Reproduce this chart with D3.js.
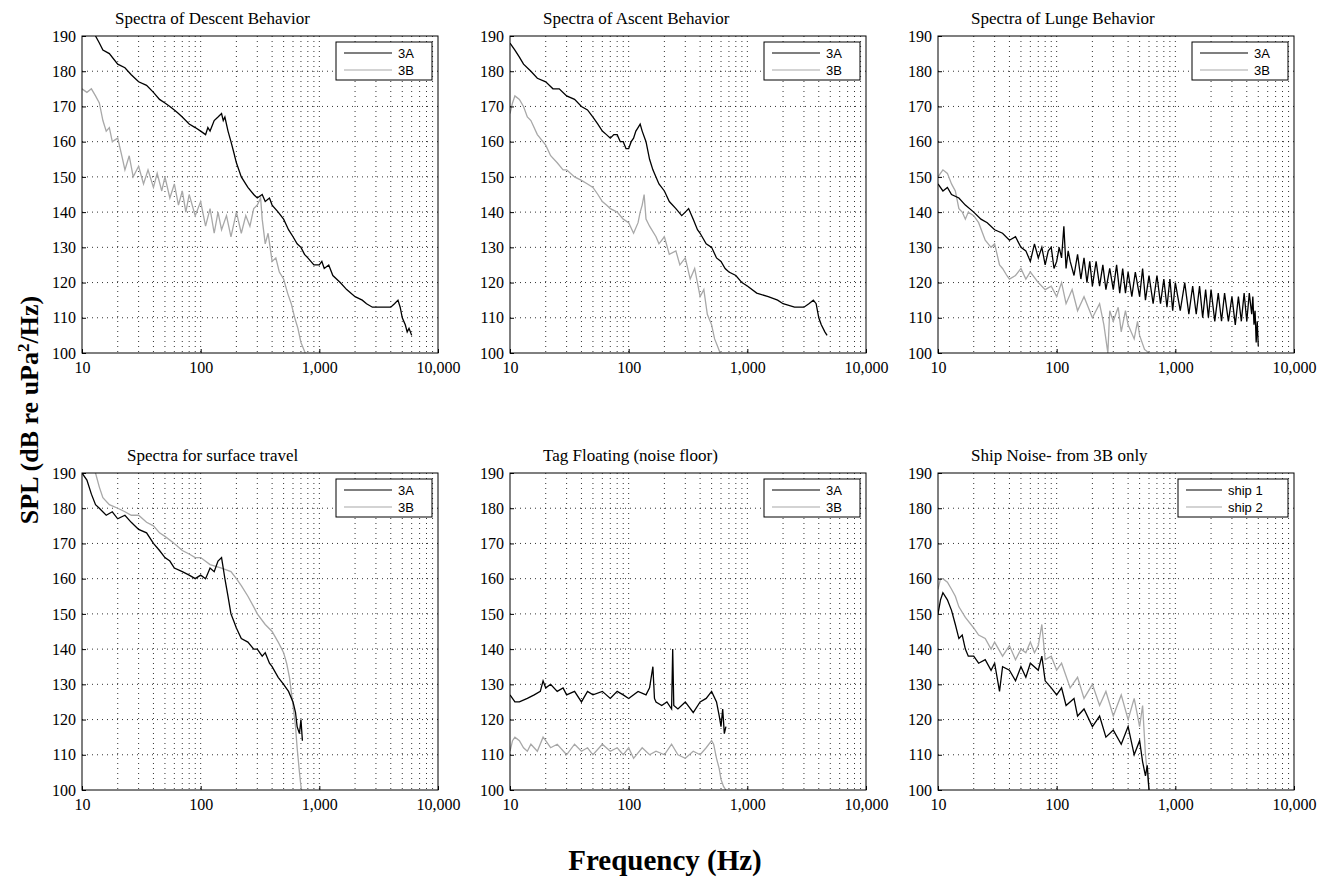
<!DOCTYPE html>
<html><head><meta charset="utf-8">
<script src="https://cdn.jsdelivr.net/npm/d3@7"></script>
<style>body{margin:0;background:#fff}</style></head>
<body><svg id="c" width="1343" height="879"></svg>
<script>
const titles=["Spectra of Descent Behavior","Spectra of Ascent Behavior","Spectra of Lunge Behavior","Spectra for surface travel","Tag Floating (noise floor)","Ship Noise- from 3B only"];
const legendNames=[["3A","3B"],["3A","3B"],["3A","3B"],["3A","3B"],["3A","3B"],["ship 1","ship 2"]];
const yTicks=[100,110,120,130,140,150,160,170,180,190];
const xTicks=[10,100,1000,10000];
// [freq Hz, dB]
const descentA=[[13,190],[14,188],[15,186],[17,185],[20,182],[23,181],[26,179],[30,177],[35,176],[40,174],[45,172],[50,171],[55,170],[60,169],[65,168],[70,167],[80,165],[90,164],[100,163],[110,162],[115,164],[120,163],[130,166],[140,167],[150,168],[155,166],[160,167],[170,163],[180,160],[190,157],[200,154],[220,150],[250,147],[280,145],[300,144],[330,145],[350,143],[380,144],[400,142],[450,140],[500,138],[550,135],[600,133],[650,131],[700,130],[750,128],[800,127],[900,125],[1000,125],[1050,126],[1100,124],[1200,125],[1300,122],[1500,120],[1700,118],[2000,116],[2300,115],[2500,114],[2800,113],[3000,113],[3500,113],[4000,113],[4300,114],[4600,115],[4800,113],[5000,110],[5300,108],[5500,106],[5700,107],[6000,105]];
const descentB=[[10,175],[11,174],[12,175],[13,173],[14,171],[15,166],[16,163],[17,164],[18,160],[20,161],[22,155],[23,152],[25,156],[27,150],[30,153],[33,148],[36,152],[40,147],[43,151],[47,146],[50,150],[55,144],[60,148],[65,142],[70,146],[75,140],[80,145],[90,139],[100,143],[110,136],[120,141],[130,134],[140,140],[150,135],[165,139],[180,133],[200,140],[220,134],[240,139],[260,136],[280,141],[300,142],[320,144],[330,138],[350,131],[370,134],[400,126],[430,127],[460,123],[500,121],[540,117],[580,114],[620,110],[660,107],[700,103],[740,101],[760,100]];
const ascentA=[[10,188],[11,186],[12,184],[13,182],[15,180],[17,178],[20,177],[23,175],[26,175],[30,173],[35,172],[40,170],[45,169],[50,167],[55,165],[60,163],[65,162],[70,161],[75,162],[80,162],[85,160],[90,160],[95,158],[100,158],[105,160],[110,161],[115,163],[120,164],[125,165],[130,163],[140,160],[150,155],[160,152],[180,148],[200,146],[220,143],[250,141],[280,139],[300,140],[320,141],[350,138],[380,135],[400,134],[450,131],[500,130],[550,127],[600,126],[650,124],[700,123],[800,122],[900,120],[1000,119],[1200,117],[1500,116],[1800,115],[2000,114],[2500,113],[3000,113],[3300,114],[3600,115],[3800,114],[4000,110],[4200,108],[4500,106],[4700,105]];
const ascentB=[[10,168],[10.5,171],[11,173],[12,172],[13,170],[14,167],[15,166],[17,162],[20,159],[22,156],[25,154],[28,152],[30,152],[35,150],[40,149],[45,148],[50,147],[55,145],[60,143],[65,142],[70,141],[80,140],[90,138],[100,137],[110,134],[120,137],[125,140],[130,142],[135,145],[140,138],[150,136],[170,133],[180,131],[200,133],[220,128],[250,129],[270,125],[300,127],[330,121],[360,124],[400,116],[430,118],[460,111],[500,108],[530,104],[560,102],[590,100]];
const lungeA=[[10,148],[11,146],[12,147],[13,145],[15,144],[17,142],[20,140],[23,138],[26,137],[30,135],[35,134],[40,132],[45,133],[50,130],[55,129],[60,126],[65,131],[70,127],[75,130],[80,125],[85,129],[90,130],[95,124],[100,126],[105,130],[110,127],[115,136],[120,124],[125,129],[130,126],[140,122],[150,128],[160,121],[170,127],[180,120],[190,126],[200,119],[215,126],[230,119],[245,125],[260,118],[280,124],[300,118],[320,125],[340,117],[360,124],[380,117],[400,123],[430,116],[460,123],[500,116],[530,124],[560,115],[600,122],[650,114],[700,122],[750,114],[800,121],[850,113],[900,121],[950,112],[1000,120],[1100,112],[1200,120],[1300,111],[1400,119],[1500,111],[1600,119],[1700,110],[1800,118],[1900,110],[2000,118],[2150,109],[2300,117],[2450,109],[2600,117],[2800,109],[3000,116],[3200,108],[3400,116],[3600,109],[3800,117],[4000,109],[4200,117],[4400,111],[4500,116],[4600,108],[4700,112],[4800,103],[4900,109],[5000,102]];
const lungeB=[[10,150],[11,152],[12,151],[13,148],[14,146],[15,141],[16,140],[17,138],[18,140],[20,139],[22,137],[25,132],[28,130],[30,131],[33,125],[35,124],[38,122],[40,121],[45,122],[50,124],[55,121],[60,123],[70,120],[80,118],[90,119],[100,116],[110,120],[120,114],[135,118],[150,112],[170,116],[200,110],[230,114],[250,108],[270,100],[280,112],[300,109],[330,113],[350,106],[380,112],[400,108],[450,104],[480,109],[500,105],[550,101],[600,100]];
const surfA=[[10,190],[11,188],[12,184],[13,181],[14,180],[16,178],[18,179],[20,177],[23,178],[26,176],[30,174],[35,173],[40,170],[45,168],[50,166],[55,165],[60,163],[70,162],[80,161],[90,160],[100,161],[110,160],[120,163],[130,162],[140,165],[150,166],[160,160],[170,155],[180,150],[190,148],[200,146],[220,143],[250,142],[280,140],[300,140],[330,138],[350,139],[380,136],[400,135],[450,132],[500,130],[550,128],[600,125],[630,122],[650,118],[680,116],[700,120],[720,114]];
const surfB=[[10,195],[12,191],[13,190],[14,186],[15,183],[17,181],[20,180],[23,179],[26,178],[30,178],[35,176],[40,175],[45,173],[50,172],[60,170],[70,168],[80,167],[90,166],[100,166],[120,164],[150,163],[180,162],[200,160],[220,158],[250,155],[280,152],[300,150],[350,147],[400,145],[450,142],[500,139],[530,136],[560,132],[600,124],[630,118],[650,112],[680,105],[700,101],[710,100]];
const tagA=[[10,127],[11,125],[12,125],[14,126],[16,127],[18,128],[19,131],[20,129],[22,130],[25,128],[28,129],[30,127],[35,128],[40,125],[45,128],[50,127],[60,128],[70,126],[80,128],[90,127],[100,126],[120,128],[140,127],[150,129],[160,135],[165,126],[170,125],[190,124],[210,125],[230,123],[235,140],[240,124],[260,123],[300,125],[350,122],[400,125],[450,126],[500,128],[550,125],[580,121],[600,118],[620,123],[640,116],[660,118]];
const tagB=[[10,111],[10.5,114],[11,115],[12,114],[13,112],[14,111],[15,113],[17,111],[19,115],[20,114],[22,112],[25,113],[30,110],[35,113],[40,111],[45,112],[50,110],[60,113],[70,111],[80,112],[90,110],[100,112],[110,109],[130,112],[150,110],[170,111],[200,110],[230,113],[260,110],[300,109],[350,111],[400,110],[450,112],[500,114],[520,113],[550,109],[580,106],[600,103],[630,101],[660,100]];
const ship1=[[10,150],[10.5,154],[11,156],[12,154],[13,151],[14,147],[15,143],[16,144],[17,140],[18,138],[20,138],[22,136],[25,137],[28,134],[30,136],[33,128],[35,135],[40,134],[45,131],[50,135],[55,132],[60,136],[70,134],[75,138],[80,131],[90,129],[100,127],[110,129],[120,124],[140,126],[150,121],[170,123],[200,118],[230,121],[260,115],[300,117],[350,113],[400,118],[450,110],[500,114],[530,108],[560,104],[580,107],[600,100]];
const ship2=[[10,157],[10.5,160],[11,160],[12,159],[13,157],[14,155],[15,152],[17,149],[20,146],[22,144],[25,143],[28,140],[30,142],[35,138],[40,141],[45,137],[50,140],[55,139],[60,142],[65,139],[70,141],[75,147],[80,137],[90,138],[100,134],[110,136],[130,129],[150,132],[170,126],[200,130],[230,124],[260,128],[300,121],[350,127],[400,120],[450,126],[500,118],[530,124],[560,110],[580,105],[600,100]];
const panels=[[descentA,descentB],[ascentA,ascentB],[lungeA,lungeB],[surfA,surfB],[tagA,tagB],[ship1,ship2]];

const svg=d3.select("#c");
const colX=[82,510,938], rowY=[36,473], W=356, H=317;
const cols=["#000","#a8a8a8"];
panels.forEach((series,i)=>{
  const ox=colX[i%3], oy=rowY[Math.floor(i/3)];
  const g=svg.append("g").attr("transform",`translate(${ox},${oy})`);
  const x=d3.scaleLog().domain([10,10000]).range([0,W]);
  const y=d3.scaleLinear().domain([100,190]).range([H,0]);
  const minor=[];for(let e=1;e<4;e++)for(let k=1;k<10;k++)minor.push(k*Math.pow(10,e));
  g.selectAll(".vg").data(minor.filter(v=>v>10)).enter().append("line")
    .attr("x1",d=>x(d)).attr("x2",d=>x(d)).attr("y1",0).attr("y2",H)
    .attr("stroke","#000").attr("stroke-width",0.8).attr("stroke-dasharray","1,4");
  g.selectAll(".hg").data(yTicks.slice(1,-1)).enter().append("line")
    .attr("y1",d=>y(d)).attr("y2",d=>y(d)).attr("x1",0).attr("x2",W)
    .attr("stroke","#000").attr("stroke-width",0.8).attr("stroke-dasharray","1,4");
  const cl="clip"+i;
  g.append("clipPath").attr("id",cl).append("rect").attr("width",W).attr("height",H);
  const line=d3.line().x(d=>x(d[0])).y(d=>y(d[1]));
  [1,0].forEach(j=>{
    g.append("path").datum(series[j]).attr("d",line).attr("fill","none")
     .attr("stroke",cols[j]).attr("stroke-width",1.3).attr("clip-path",`url(#${cl})`);
  });
  g.append("rect").attr("width",W).attr("height",H).attr("fill","none").attr("stroke","#000").attr("stroke-width",1);
  const xa=g.append("g").attr("transform",`translate(0,${H})`)
    .call(d3.axisBottom(x).tickValues(xTicks).tickFormat(d3.format(",")).tickSize(-4).tickPadding(9));
  const ya=g.append("g").call(d3.axisLeft(y).tickValues(yTicks).tickSize(-4).tickPadding(6));
  [xa,ya].forEach(a=>{a.select(".domain").remove();a.selectAll("text").attr("font-family","Liberation Serif").attr("font-size",16).attr("fill","#000");});
  g.append("text").attr("x",i===3?45:33).attr("y",-12).text(titles[i])
    .attr("font-family","Liberation Serif").attr("font-size",17);
  const lw=i===5?110:96, lg=g.append("g").attr("transform",`translate(${W-6-lw},6)`);
  lg.append("rect").attr("width",lw).attr("height",38).attr("fill","#fff").attr("stroke","#000");
  legendNames[i].forEach((n,j)=>{
    lg.append("line").attr("x1",8).attr("x2",i===5?44:56).attr("y1",11+j*17).attr("y2",11+j*17).attr("stroke",cols[j]).attr("stroke-width",1.2);
    lg.append("text").attr("x",i===5?50:62).attr("y",16+j*17).text(n).attr("font-family","Liberation Sans").attr("font-size",13);
  });
});
svg.append("text").attr("transform","translate(38,410) rotate(-90)").attr("text-anchor","middle")
 .attr("font-family","Liberation Serif").attr("font-weight","bold").attr("font-size",26)
 .html('SPL (dB re uPa<tspan baseline-shift="super" font-size="17">2</tspan>/Hz)');
svg.append("text").attr("x",665).attr("y",870).attr("text-anchor","middle")
 .attr("font-family","Liberation Serif").attr("font-weight","bold").attr("font-size",29).text("Frequency (Hz)");
</script></body></html>
